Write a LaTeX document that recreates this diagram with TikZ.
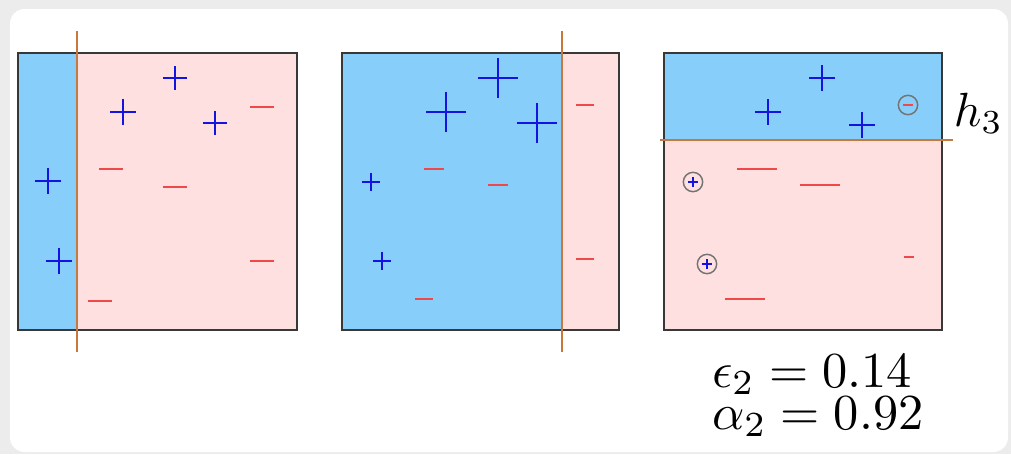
\documentclass[tikz,border=0pt]{standalone}
\usepackage{amsmath}
\usetikzlibrary{positioning}
\definecolor{skyfill}{RGB}{135,206,250}
\definecolor{pinkfill}{RGB}{255,224,225}
\definecolor{cutline}{RGB}{200,120,62}
\definecolor{posblue}{RGB}{20,20,225}
\definecolor{negred}{RGB}{238,72,72}
\definecolor{outergray}{RGB}{236,236,236}

% marks: x, y, half length
\newcommand{\pmark}[3]{\draw[posmark] (#1-#3,#2) -- (#1+#3,#2) (#1,#2-#3) -- (#1,#2+#3);}
\newcommand{\mmark}[3]{\draw[negmark] (#1-#3,#2) -- (#1+#3,#2);}

\begin{document}
\begin{tikzpicture}[x=0.75pt,y=-0.75pt,
    frame/.style={draw=black!78,line width=2pt},
    cut/.style={draw=cutline,line width=1.4pt},
    posmark/.style={draw=posblue,line width=1.5pt},
    negmark/.style={draw=negred,line width=1.8pt},
    ring/.style={draw=black!55,line width=1.1pt,circle,minimum size=14.5pt,inner sep=0pt},
    lbl/.style={scale=3.6,inner sep=0pt}]
  \useasboundingbox (0,0) rectangle (1011,454);
  \fill[outergray] (0,0) rectangle (1011,454);
  \fill[white,rounded corners=11pt] (10,9) rectangle (1008,452);

  % first weak learner
  \fill[skyfill] (18,53) rectangle (77,330);
  \fill[pinkfill] (77,53) rectangle (297,330);
  \draw[frame] (18,53) rectangle (297,330);
  \draw[cut] (77,31) -- (77,352);
  \pmark{175}{78}{12}
  \pmark{123}{112}{13}
  \pmark{215}{123}{12}
  \pmark{48}{181}{13}
  \pmark{59}{261}{13}
  \mmark{262}{107}{12}
  \mmark{111}{169}{12}
  \mmark{175}{187}{12}
  \mmark{262}{261}{12}
  \mmark{100}{301}{12}

  % second weak learner
  \fill[skyfill] (342,53) rectangle (562,330);
  \fill[pinkfill] (562,53) rectangle (619,330);
  \draw[frame] (342,53) rectangle (619,330);
  \draw[cut] (562,31) -- (562,352);
  \pmark{498}{78}{20}
  \pmark{446}{112}{20}
  \pmark{537}{123}{20}
  \pmark{371}{182}{9}
  \pmark{382}{261}{9}
  \mmark{585}{105}{9}
  \mmark{434}{169}{10}
  \mmark{498}{185}{10}
  \mmark{585}{259}{9}
  \mmark{424}{299}{9}

  % third weak learner
  \fill[skyfill] (664,53) rectangle (942,140);
  \fill[pinkfill] (664,140) rectangle (942,330);
  \draw[frame] (664,53) rectangle (942,330);
  \draw[cut] (660,140) -- (953,140);
  \pmark{822}{78}{13}
  \pmark{768}{112}{13}
  \pmark{862}{125}{13}
  \mmark{757}{169}{20}
  \mmark{820}{185}{20}
  \mmark{909}{257}{5}
  \mmark{745}{299}{20}
  \node[ring] (m1) at (908,105) {};
  \mmark{908}{105}{5}
  \node[ring] (p1) at (693,182) {};
  \pmark{693}{182}{5}
  \node[ring] (p2) at (707,264) {};
  \pmark{707}{264}{5}

  \node[lbl,anchor=base west] (h3) at (953,126) {$h_3$};
  \node[lbl,scale=1.05,anchor=base west] (eps) at (711,387) {$\epsilon_2 = 0.14$};
  \node[lbl,scale=1.05,anchor=base west] (alpha) at (711,429) {$\alpha_2 = 0.92$};
\end{tikzpicture}
\end{document}
